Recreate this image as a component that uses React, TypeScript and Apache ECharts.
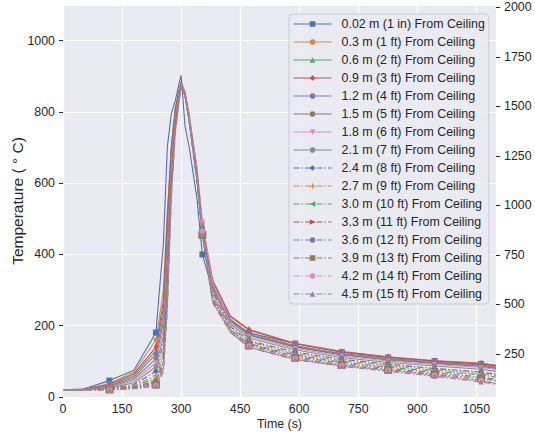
import React, { useEffect, useRef } from "react";
import * as echarts from "echarts";

// Time samples (s)
const times = [0, 50, 118, 180, 236, 255, 265, 275, 285, 295, 300, 310, 320, 340, 354, 380, 425, 472, 590, 708, 826, 944, 1062, 1100];
const markerTimes = [118, 236, 354, 472, 590, 708, 826, 944, 1062];

const seriesNames = [
  "0.02 m (1 in) From Ceiling",
  "0.3 m (1 ft) From Ceiling",
  "0.6 m (2 ft) From Ceiling",
  "0.9 m (3 ft) From Ceiling",
  "1.2 m (4 ft) From Ceiling",
  "1.5 m (5 ft) From Ceiling",
  "1.8 m (6 ft) From Ceiling",
  "2.1 m (7 ft) From Ceiling",
  "2.4 m (8 ft) From Ceiling",
  "2.7 m (9 ft) From Ceiling",
  "3.0 m (10 ft) From Ceiling",
  "3.3 m (11 ft) From Ceiling",
  "3.6 m (12 ft) From Ceiling",
  "3.9 m (13 ft) From Ceiling",
  "4.2 m (14 ft) From Ceiling",
  "4.5 m (15 ft) From Ceiling",
];

// Temperatures (°C) at the time samples above
const t01 = [20, 22, 46, 75, 181, 430, 700, 795, 830, 880, 903, 760, 705, 560, 400, 300, 215, 180, 150, 126, 111, 101, 93, 88];
const t02 = [20, 21, 38, 70, 160, 300, 520, 700, 810, 865, 882, 855, 795, 645, 490, 330, 228, 190, 151, 128, 113, 102, 95, 89];
const t03 = [20, 20, 32, 60, 130, 250, 480, 690, 800, 860, 880, 845, 780, 615, 470, 310, 215, 176, 142, 120, 106, 96, 88, 82];
const t04 = [20, 21, 35, 65, 140, 270, 500, 700, 805, 862, 884, 853, 790, 635, 480, 325, 226, 188, 149, 127, 112, 101, 94, 88];
const t05 = [20, 20, 30, 55, 120, 230, 450, 670, 790, 855, 880, 850, 785, 625, 470, 315, 218, 180, 144, 122, 108, 98, 90, 84];
const t06 = [20, 20, 28, 50, 107, 210, 420, 650, 785, 852, 878, 850, 787, 630, 475, 312, 212, 174, 140, 118, 104, 94, 86, 80];
const t07 = [20, 20, 27, 45, 96, 190, 400, 640, 780, 850, 880, 855, 795, 645, 492, 320, 210, 170, 136, 115, 101, 91, 83, 77];
const t08 = [20, 20, 25, 40, 85, 170, 380, 630, 775, 848, 878, 852, 790, 635, 480, 305, 205, 165, 132, 111, 97, 87, 78, 72];
const t09 = [20, 20, 24, 35, 72, 150, 360, 620, 770, 845, 876, 850, 785, 625, 470, 295, 198, 158, 126, 106, 92, 80, 70, 64];
const t10 = [20, 20, 23, 32, 60, 130, 340, 610, 765, 842, 875, 848, 783, 620, 465, 290, 195, 155, 122, 102, 88, 76, 66, 60];
const t11 = [20, 20, 22, 30, 52, 115, 320, 600, 760, 840, 874, 846, 780, 615, 460, 285, 190, 150, 118, 98, 84, 72, 62, 56];
const t12 = [20, 20, 21, 28, 45, 100, 300, 590, 755, 838, 872, 845, 777, 610, 455, 265, 182, 139, 105, 88, 76, 62, 46, 38];
const t13 = [20, 20, 21, 26, 40, 90, 280, 580, 750, 836, 872, 846, 780, 615, 460, 280, 188, 148, 114, 94, 80, 68, 56, 50];
const t14 = [20, 20, 21, 25, 35, 80, 260, 570, 745, 834, 870, 845, 777, 610, 455, 275, 185, 145, 110, 90, 76, 64, 52, 46];
const t15 = [20, 20, 20, 24, 32, 75, 250, 560, 740, 832, 870, 847, 781, 617, 465, 285, 186, 142, 108, 88, 74, 60, 46, 40];
const t16 = [20, 20, 20, 23, 30, 70, 240, 550, 735, 830, 868, 845, 777, 610, 455, 270, 182, 140, 106, 86, 72, 58, 42, 35];

const temps = [t01, t02, t03, t04, t05, t06, t07, t08, t09, t10, t11, t12, t13, t14, t15, t16];

const fahrenheitTicks = [250, 500, 750, 1000, 1250, 1500, 1750, 2000];

// Styles
const palette = ["#4C72B0", "#DD8452", "#55A868", "#C44E52", "#8172B3", "#937860", "#DA8BC3", "#8C8C8C"];
const plus = "path://M4,0H6V4H10V6H6V10H4V6H0V4H4Z";
const symbols = ["rect", "circle", "triangle", "diamond", "circle", "circle", "triangle", "circle",
  "diamond", plus, "triangle", "triangle", "circle", "rect", "circle", "triangle"];
const symbolSizes: any[] = [6, 5, 5, [4, 7], 5, 5, 5, 5, 6, 6, 5, 5, 4, 8, 6, 5];
const symbolRotates = [0, 0, 0, 0, 0, 0, 180, 0, 0, 0, 90, -90, 0, 0, 0, 0];

const FONT = "'Liberation Sans', Arial, 'DejaVu Sans', sans-serif";
const TXT = "#262626";
const FS = 12.4;
const plain = (v: number) => String(v);

export default function App() {
  const ref = useRef<HTMLDivElement>(null);
  useEffect(() => {
    if (!ref.current) return;
    const chart = echarts.init(ref.current, undefined, { renderer: "svg" });
    const series = temps.map((vals, si) => ({
      type: "line",
      name: seriesNames[si],
      xAxisIndex: 0,
      yAxisIndex: 0,
      data: vals.map((v, i) =>
        markerTimes.includes(times[i])
          ? { value: [times[i], v] }
          : { value: [times[i], v], symbol: "none" }
      ),
      symbol: symbols[si],
      symbolSize: symbolSizes[si],
      symbolRotate: symbolRotates[si],
      showSymbol: true,
      showAllSymbol: true,
      lineStyle: {
        color: palette[si % 8],
        width: 1.1,
        type: si >= 8 ? [6, 2, 1.5, 2] : "solid",
      },
      itemStyle: { color: palette[si % 8] },
      emphasis: { disabled: true },
      z: 2,
    }));
    chart.setOption({
      animation: false,
      backgroundColor: "#ffffff",
      textStyle: { fontFamily: FONT },
      grid: {
        left: 63,
        right: 39,
        top: 5,
        bottom: 39,
        containLabel: false,
        outerBoundsMode: "none",
        show: true,
        backgroundColor: "#EAEAF2",
        borderWidth: 0,
      },
      legend: {
        show: true,
        orient: "vertical",
        left: 289,
        top: 14,
        padding: [3, 4, 3, 4],
        itemWidth: 38,
        itemHeight: 7,
        itemGap: 4,
        backgroundColor: "rgba(234,234,242,0.85)",
        borderColor: "#cccccc",
        borderWidth: 1,
        borderRadius: 4,
        selectedMode: false,
        lineStyle: { width: 1.1 },
        textStyle: {
          fontFamily: FONT,
          fontSize: FS,
          color: TXT,
          lineHeight: 14,
          padding: [0, 0, 0, 5],
        },
        data: seriesNames,
      },
      xAxis: {
        type: "value",
        min: 0,
        max: 1100,
        interval: 150,
        name: "Time (s)",
        nameLocation: "middle",
        nameGap: 21,
        nameMoveOverlap: false,
        nameTextStyle: { fontFamily: FONT, fontSize: FS, color: TXT },
        axisLine: { show: false },
        axisTick: { show: false },
        axisLabel: {
          fontFamily: FONT,
          fontSize: FS,
          color: TXT,
          margin: 6,
          showMaxLabel: false,
          formatter: plain,
        },
        splitLine: { show: true, lineStyle: { color: "#ffffff", width: 1.2 } },
      },
      yAxis: [
        {
          type: "value",
          min: 0,
          max: 1100,
          interval: 200,
          position: "left",
          name: "Temperature ( ° C)",
          nameLocation: "middle",
          nameGap: 38,
          nameMoveOverlap: false,
          nameTextStyle: { fontFamily: FONT, fontSize: 15.5, color: TXT },
          axisLine: { show: false },
          axisTick: { show: true, length: 4, lineStyle: { color: TXT, width: 1 } },
          axisLabel: {
            fontFamily: FONT,
            fontSize: FS,
            color: TXT,
            margin: 8,
            showMaxLabel: false,
            formatter: plain,
          },
          splitLine: { show: true, lineStyle: { color: "#ffffff", width: 1.2 } },
        },
        {
          type: "value",
          min: 32,
          max: 2012,
          position: "right",
          axisLine: { show: false },
          axisTick: {
            show: true,
            length: 4,
            customValues: fahrenheitTicks,
            lineStyle: { color: TXT, width: 1 },
          },
          axisLabel: {
            fontFamily: FONT,
            fontSize: FS,
            color: TXT,
            margin: 8,
            customValues: fahrenheitTicks,
            formatter: plain,
          },
          splitLine: { show: false },
        },
      ],
      series,
    });
    return () => chart.dispose();
  }, []);
  return (
    <div
      ref={ref}
      style={{ position: "fixed", left: 0, top: 0, width: 535, height: 436 }}
    />
  );
}
